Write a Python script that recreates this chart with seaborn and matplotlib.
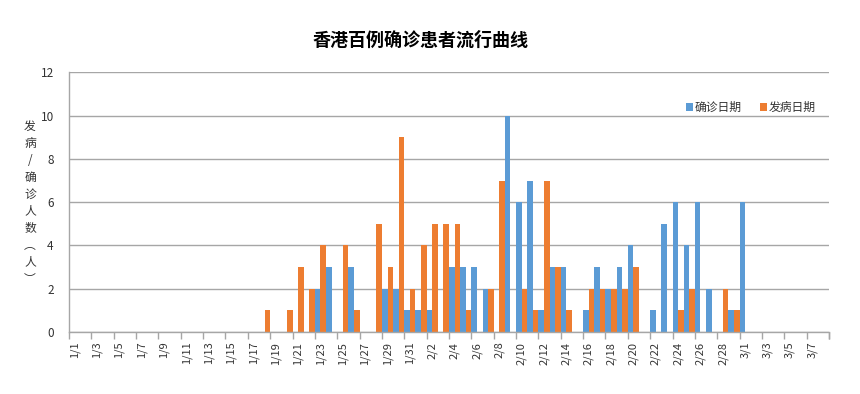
import matplotlib
matplotlib.use("Agg")
import matplotlib.pyplot as plt
import seaborn as sns
import pandas as pd
import numpy as np
from matplotlib.ticker import FixedLocator

# ---- data ----
dates = ([f"1/{d}" for d in range(1, 32)] + [f"2/{d}" for d in range(1, 30)]
         + [f"3/{d}" for d in range(1, 9)])
confirm = [0]*68
onset = [0]*68
confirm_vals = {22: 2, 23: 3, 25: 3, 28: 2, 29: 2, 30: 1, 31: 1, 32: 1, 34: 3, 35: 3,
                36: 3, 37: 2, 39: 10, 40: 6, 41: 7, 42: 1, 43: 3, 44: 3, 46: 1, 47: 3,
                48: 2, 49: 3, 50: 4, 52: 1, 53: 5, 54: 6, 55: 4, 56: 6, 57: 2, 59: 1, 60: 6}
onset_vals = {17: 1, 19: 1, 20: 3, 21: 2, 22: 4, 24: 4, 25: 1, 27: 5, 28: 3, 29: 9,
              30: 2, 31: 4, 32: 5, 33: 5, 34: 5, 35: 1, 37: 2, 38: 7, 40: 2, 41: 1,
              42: 7, 43: 3, 44: 1, 46: 2, 47: 2, 48: 2, 49: 2, 50: 3, 54: 1, 55: 2,
              58: 2, 59: 1}
for k, v in confirm_vals.items():
    confirm[k] = v
for k, v in onset_vals.items():
    onset[k] = v
series_names = ["确诊日期", "发病日期"]
colors = ["#5B9BD5", "#ED7D31"]

df = pd.DataFrame({
    "date": dates * 2,
    "series": [series_names[0]] * 68 + [series_names[1]] * 68,
    "value": confirm + onset,
})

sns.set_theme(style="white")
plt.rcParams["font.family"] = ["Noto Sans CJK SC", "DejaVu Sans"]

fig = plt.figure(figsize=(8.6, 3.94), dpi=100)
ax = fig.add_axes([69/860, 1-332/394, (829-69)/860, (332-72.3)/394])

sns.barplot(data=df, x="date", y="value", hue="series", order=dates,
            hue_order=series_names, palette=colors, width=1.0, dodge=True,
            linewidth=0, edgecolor="none", saturation=1, ax=ax, legend=True)

ax.set_xlim(-0.5, 67.5)
ax.set_ylim(0, 12)
ax.set_yticks(range(0, 13, 2))
ax.yaxis.grid(True, color="#a6a6a6", linewidth=1)
ax.set_axisbelow(True)
ax.set_xlabel("")
ax.set_ylabel("")

# category labels every other day, ticks at boundaries
ax.set_xticks(range(0, 68, 2))
ax.set_xticklabels(dates[::2], rotation=90, fontsize=8, color="#333333")
ax.xaxis.set_minor_locator(FixedLocator(list(np.arange(-0.5, 68, 2)) + [67.5]))
ax.tick_params(axis="x", which="major", length=0, pad=7)
ax.tick_params(axis="x", which="minor", length=5, width=1, color="#a6a6a6", bottom=True)
ax.tick_params(axis="y", length=0, pad=11, labelsize=8.5, labelcolor="#333333")

for s in ["top", "right"]:
    ax.spines[s].set_visible(False)
for s in ["left", "bottom"]:
    ax.spines[s].set_color("#a6a6a6")
    ax.spines[s].set_linewidth(1)

leg = ax.legend(loc="upper right", bbox_to_anchor=(0.996, 0.93), ncol=2, frameon=False,
                fontsize=8.5, handlelength=0.6, handleheight=0.6, handletextpad=0.1,
                columnspacing=1.6)
for t in leg.get_texts():
    t.set_color("#333333")

fig.text(421/860, 1-40.7/394, "香港百例确诊患者流行曲线", ha="center", va="center",
         fontsize=13, fontweight="bold", color="#000000")

fig.text(30/860, 1-202.5/394, "\n".join(list("发病/确诊人数") + ["︵", "人", "︶"]),
         ha="center", va="center", fontsize=8.5, linespacing=1.4, color="#333333")

fig.savefig("out.png", dpi=100)
